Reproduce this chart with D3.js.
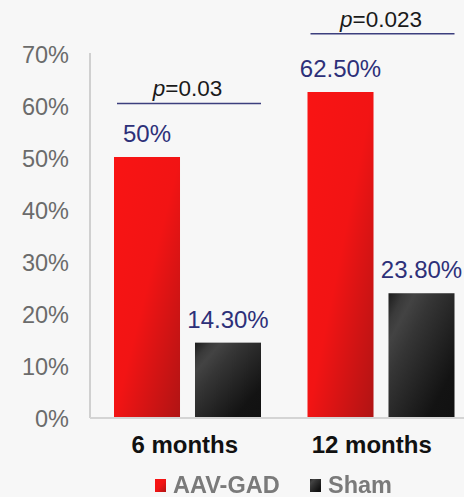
<!DOCTYPE html>
<html>
<head>
<meta charset="utf-8">
<script src="https://cdn.jsdelivr.net/npm/d3@7"></script>
<style>
  html, body { margin: 0; padding: 0; background: #f7f7f7; }
  svg { display: block; font-family: "Liberation Sans", Arial, sans-serif; }
</style>
</head>
<body>
<svg id="chart" width="464" height="497"></svg>
<script>
// ---- data ----
const categories = ["6 months", "12 months"];
const seriesNames = ["AAV-GAD", "Sham"];
const aavValues = [0.50, 0.625];
const shamValues = [0.143, 0.238];
const valueLabels = [["50%", "14.30%"], ["62.50%", "23.80%"]];
const pLabels = ["0.03", "0.023"];
const bracketLevels = [0.603, 0.737];
const yTicks = [0, 0.1, 0.2, 0.3, 0.4, 0.5, 0.6, 0.7];

const svg = d3.select("#chart");
const W = 464, H = 497;
const plotLeft = 90, plotRight = 477, plotTop = 53, plotBottom = 417;

const defs = svg.append("defs");
const gRed = defs.append("linearGradient").attr("id", "gRed")
  .attr("x1", 0).attr("y1", 0).attr("x2", 1).attr("y2", 1);
[[0, "#f91414"], [0.5, "#f21414"], [1, "#b01414"]].forEach(s =>
  gRed.append("stop").attr("offset", s[0]).attr("stop-color", s[1]));
const gDark = defs.append("linearGradient").attr("id", "gDark")
  .attr("x1", 0).attr("y1", 0).attr("x2", 1).attr("y2", 1);
[[0, "#1c1c1c"], [0.12, "#3a3a3a"], [0.2, "#434343"], [0.35, "#353535"], [0.6, "#222222"], [0.8, "#131313"], [1, "#111111"]].forEach(s =>
  gDark.append("stop").attr("offset", s[0]).attr("stop-color", s[1]));
defs.append("filter").attr("id", "blur").append("feGaussianBlur").attr("stdDeviation", 0.6);

const x0 = d3.scaleBand().domain(categories).range([plotLeft, plotRight]).paddingInner(0).paddingOuter(0);
const x1 = d3.scaleBand().domain(seriesNames).range([24, x0.bandwidth() - 22.5]).paddingInner(0.185);
const y = d3.scaleLinear().domain([0, 0.7]).range([plotBottom, plotTop]);

const fills = { "AAV-GAD": "url(#gRed)", "Sham": "url(#gDark)" };

// y tick labels
svg.append("g").selectAll("text").data(yTicks).join("text")
  .attr("x", 69).attr("y", d => y(d) + 2).attr("dy", "0.35em")
  .attr("text-anchor", "end").attr("font-size", 23.5).attr("fill", "#6b6b6b")
  .text(d => d3.format(".0%")(d));

// axis lines
svg.append("line").attr("x1", plotLeft).attr("x2", plotLeft)
  .attr("y1", y(0.7)).attr("y2", y(0) + 1)
  .attr("stroke", "#d0d0d0").attr("stroke-width", 2);

// bars
const data = categories.map((c, i) => ({
  cat: c, i,
  bars: [
    { s: "AAV-GAD", v: aavValues[i], label: valueLabels[i][0] },
    { s: "Sham", v: shamValues[i], label: valueLabels[i][1] }
  ]
}));

const groups = svg.append("g").selectAll("g").data(data).join("g")
  .attr("transform", d => `translate(${x0(d.cat)},0)`);

groups.selectAll("rect").data(d => d.bars).join("rect")
  .attr("x", d => x1(d.s)).attr("width", x1.bandwidth())
  .attr("y", d => y(d.v)).attr("height", d => y(0) - y(d.v))
  .attr("fill", d => fills[d.s]);

groups.selectAll("text.val").data(d => d.bars).join("text").attr("class", "val")
  .attr("x", d => x1(d.s) + x1.bandwidth() / 2).attr("y", d => y(d.v) - 15)
  .attr("text-anchor", "middle").attr("font-size", 24).attr("fill", "#2d3079")
  .text(d => d.label);

// baseline
svg.append("line").attr("x1", plotLeft).attr("x2", W)
  .attr("y1", y(0) + 1).attr("y2", y(0) + 1)
  .attr("stroke", "#d4d4d4").attr("stroke-width", 2);

// p-value brackets
groups.append("line")
  .attr("x1", x1("AAV-GAD") + 3).attr("x2", x1("Sham") + x1.bandwidth())
  .attr("y1", d => y(bracketLevels[d.i])).attr("y2", d => y(bracketLevels[d.i]))
  .attr("stroke", "#3c3f7e").attr("stroke-width", 1.5);
const pt = groups.append("text")
  .attr("x", (x1("AAV-GAD") + x1("Sham") + x1.bandwidth()) / 2)
  .attr("y", d => y(bracketLevels[d.i]) - 7)
  .attr("text-anchor", "middle").attr("font-size", 22.5).attr("fill", "#1a1a1a");
pt.append("tspan").attr("font-style", "italic").text("p");
pt.append("tspan").text(d => "=" + pLabels[d.i]);

// category labels
svg.append("g").selectAll("text").data(categories).join("text")
  .attr("x", (d, i) => x0(d) + x0.bandwidth() / 2 - (i === 0 ? 2 : 8.5))
  .attr("y", 453).attr("text-anchor", "middle")
  .attr("font-size", 24).attr("font-weight", "bold").attr("fill", "#111")
  .text(d => d);

// legend
const legX = [155, 310];
const leg = svg.append("g").selectAll("g").data(seriesNames).join("g")
  .attr("transform", (d, i) => `translate(${legX[i]},0)`);
leg.append("rect").attr("x", 0).attr("y", 479).attr("width", 11).attr("height", 13)
  .attr("fill", d => fills[d]);
leg.append("text").attr("x", 18).attr("y", 493)
  .attr("font-size", 23.5).attr("font-weight", "bold").attr("fill", "#7a7a7a")
  .attr("filter", "url(#blur)")
  .text(d => d);
</script>
</body>
</html>
